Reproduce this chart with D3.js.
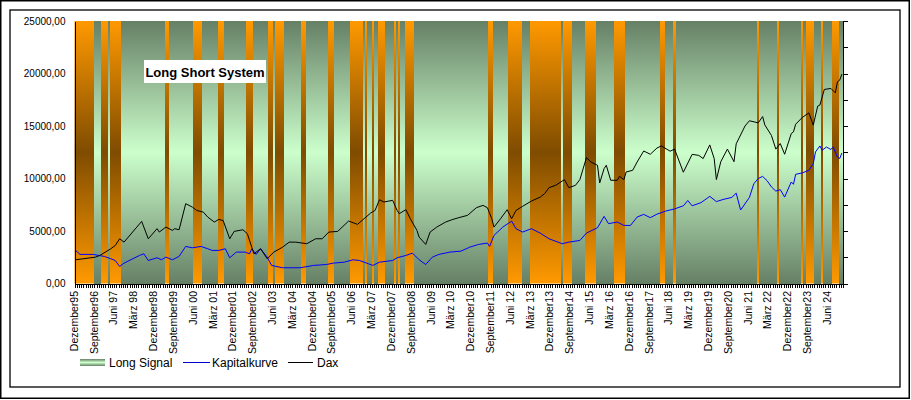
<!DOCTYPE html>
<meta charset="utf-8">
<title>Long Short System</title>
<style>
  body { margin: 0; background: #fff; }
  text { font-family: "Liberation Sans", Arial, sans-serif; fill: #000; }
  .frame { fill: none; stroke: #000; }
  .axis path, .axis line { stroke: #000; shape-rendering: crispEdges; }
  .band { shape-rendering: crispEdges; }
  .dax { fill: none; stroke: #000; stroke-width: 1px; }
  .kapital { fill: none; stroke: #0000ff; stroke-width: 1px; }
</style>
<svg width="911" height="400"></svg>
<script src="https://d3js.org/d3.v7.min.js"></script>
<script>
  // months from Dezember 95 (index 0) to Dezember 24 (index 348)
  var monthCount = 349;

  var tickLabels = ["Dezember95", "September96", "Juni 97", "März 98", "Dezember98", "September99",
    "Juni 00", "März 01", "Dezember01", "September02", "Juni 03", "März 04", "Dezember04",
    "September05", "Juni 06", "März 07", "Dezember07", "September08", "Juni 09", "März 10",
    "Dezember10", "September11", "Juni 12", "März 13", "Dezember13", "September14", "Juni 15",
    "März 16", "Dezember16", "September17", "Juni 18", "März 19", "Dezember19", "September20",
    "Juni 21", "März 22", "Dezember22", "September23", "Juni 24"];
  var labelStep = 9;

  var yTicks = [0, 5000, 10000, 15000, 20000, 25000];
  var rightTicks = [0, 2500, 5000, 7500, 10000, 12500, 15000, 17500, 20000, 22500, 25000];

  // months without long signal (first and last month index)
  var shortPeriods = [[0, 8], [12, 14], [16, 20], [41, 42], [54, 57], [65, 67], [78, 80], [88, 89],
    [91, 94], [103, 104], [115, 117], [125, 130], [132, 132], [135, 135], [138, 140], [145, 145],
    [147, 147], [150, 153], [188, 189], [197, 202], [207, 220], [222, 225], [232, 236], [245, 249],
    [266, 267], [272, 272], [310, 310], [319, 319], [330, 330], [332, 335], [339, 339], [344, 346]];

  // [month index, value]
  var daxPoints = [[0, 2260], [9, 2510], [11, 2670], [16, 3310], [18, 3620], [20, 4260], [22, 3940],
    [30, 5915], [33, 4260], [37, 5220], [38, 4900], [41, 5370], [44, 5060], [45, 5220], [47, 5120],
    [50, 7600], [53, 7280], [55, 6960], [58, 6800], [60, 6330], [63, 5850], [65, 6100], [67, 6000],
    [70, 4260], [72, 4960], [76, 5120], [78, 4740], [80, 3460], [81, 2830], [84, 3310], [87, 2360],
    [90, 2990], [94, 3460], [97, 3940], [100, 3940], [105, 3790], [109, 4260], [112, 4260],
    [115, 4900], [119, 4960], [124, 5950], [128, 5630], [131, 6170], [134, 6710], [136, 6960],
    [138, 7980], [140, 7760], [144, 7920], [146, 6960], [147, 6650], [150, 7030], [152, 6170],
    [155, 5060], [156, 4420], [159, 3720], [161, 4900], [164, 5370], [168, 5850], [171, 6080],
    [174, 6270], [178, 6490], [182, 7220], [185, 7440], [187, 7220], [189, 6170], [190, 5370],
    [193, 6170], [196, 7030], [198, 6170], [200, 6960], [203, 7350], [207, 7850], [211, 8230],
    [213, 8560], [215, 9130], [218, 9350], [222, 9890], [224, 9130], [227, 9350], [229, 9890],
    [232, 11990], [234, 11570], [237, 11260], [238, 9570], [240, 10940], [241, 11260], [243, 9830],
    [246, 9830], [247, 10210], [249, 9890], [250, 10620], [253, 10780], [255, 11570], [258, 12620],
    [261, 12310], [264, 12900], [266, 13100], [270, 12600], [272, 12800], [276, 10600], [280, 12300],
    [283, 12200], [285, 11900], [288, 13200], [290, 11900], [291, 9900], [293, 11600], [296, 12800],
    [299, 11600], [300, 13300], [304, 15000], [306, 15500], [310, 15300], [312, 15900], [313, 15100],
    [316, 14100], [318, 12800], [320, 13330], [322, 12310], [325, 14280], [326, 14440], [327, 15170],
    [330, 15810], [333, 16250], [335, 15080], [337, 16890], [338, 16990], [340, 18480], [343, 18580],
    [345, 18160], [346, 19210], [347, 19370], [348, 19940]];

  var kapitalPoints = [[0, 3150], [2, 2770], [8, 2770], [13, 2580], [16, 2360], [18, 2190], [20, 1620],
    [22, 1940], [29, 2670], [31, 2830], [33, 2190], [37, 2450], [39, 2260], [41, 2510], [44, 2260],
    [47, 2580], [50, 3530], [53, 3400], [57, 3530], [60, 3310], [62, 3150], [65, 3150], [68, 3310],
    [70, 2450], [73, 2990], [77, 2990], [79, 2830], [80, 3310], [82, 2770], [84, 3310], [87, 2510],
    [89, 1720], [94, 1500], [102, 1500], [108, 1720], [114, 1810], [117, 1940], [122, 2030],
    [126, 2260], [129, 2190], [133, 1880], [135, 1720], [138, 2030], [144, 2190], [146, 2450],
    [150, 2670], [153, 2890], [156, 2260], [159, 1810], [162, 2510], [165, 2770], [170, 2990],
    [175, 3080], [179, 3460], [183, 3720], [187, 3850], [188, 3530], [190, 4580], [194, 5370],
    [198, 5940], [200, 5220], [203, 4900], [207, 5220], [211, 4800], [215, 4260], [221, 3790],
    [224, 3940], [229, 4100], [232, 4800], [237, 5310], [240, 6390], [242, 5700], [246, 5850],
    [249, 5530], [252, 5530], [255, 6330], [258, 6580], [261, 6270], [264, 6600], [268, 6900],
    [272, 7100], [276, 7400], [278, 7900], [280, 7400], [284, 7700], [288, 8300], [291, 7800],
    [294, 8000], [298, 8200], [300, 8600], [302, 7000], [306, 8200], [308, 9500], [310, 10000],
    [312, 10200], [314, 9800], [316, 9200], [318, 8800], [320, 8940], [322, 8230], [325, 9670],
    [326, 9450], [327, 10400], [330, 10530], [333, 10780], [335, 11420], [336, 12530], [338, 13100],
    [339, 12690], [341, 13000], [343, 12760], [344, 13000], [346, 12050], [347, 11900], [348, 12430]];

  var svg = d3.select("svg");
  var plot = { left: 74.5, right: 843, top: 21, bottom: 283.5 };

  var x = d3.scaleLinear().domain([0, monthCount]).range([plot.left, plot.right]);
  var y = d3.scaleLinear().domain([0, 25000]).range([plot.bottom, plot.top]);

  // frames
  svg.append("rect").attr("class", "frame")
    .attr("x", 0.75).attr("y", 0.75).attr("width", 908.5).attr("height", 397.5)
    .attr("stroke-width", 1.5);
  svg.append("rect").attr("class", "frame")
    .attr("x", 10).attr("y", 10).attr("width", 890).attr("height", 377)
    .attr("stroke-width", 1.3);

  // gradients: half-tone at the edges or centre
  var defs = svg.append("defs");
  function gradient(id, edge, centre, userSpace) {
    var g = defs.append("linearGradient").attr("id", id)
      .attr("x1", 0).attr("x2", 0);
    if (userSpace) {
      g.attr("gradientUnits", "userSpaceOnUse").attr("y1", plot.top).attr("y2", plot.bottom);
    } else {
      g.attr("y1", 0).attr("y2", 1);
    }
    g.append("stop").attr("offset", "0%").attr("stop-color", edge);
    g.append("stop").attr("offset", "50%").attr("stop-color", centre);
    g.append("stop").attr("offset", "100%").attr("stop-color", edge);
  }
  gradient("shortGrad", "#ff9900", "#7f4c00", true);
  gradient("longGrad", "#668066", "#ccffcc", true);
  gradient("longGradLegend", "#668066", "#ccffcc", false);

  // background = short signal
  svg.append("rect")
    .attr("x", x(0)).attr("y", y(25000))
    .attr("width", x(monthCount) - x(0)).attr("height", y(0) - y(25000))
    .attr("fill", "url(#shortGrad)");

  // long signal ranges = gaps between short periods
  var longPeriods = [];
  var start = 0;
  shortPeriods.forEach(function (p) {
    if (p[0] > start) longPeriods.push([start, p[0] - 1]);
    start = p[1] + 1;
  });
  if (start < monthCount) longPeriods.push([start, monthCount - 1]);

  svg.append("g").selectAll("rect")
    .data(longPeriods)
    .enter().append("rect")
    .attr("class", "band")
    .attr("x", d => x(d[0]))
    .attr("width", d => x(d[1] + 1) - x(d[0]))
    .attr("y", y(25000))
    .attr("height", y(0) - y(25000))
    .attr("fill", "url(#longGrad)");

  // axes
  var fmt = d => d3.format(".2f")(d).replace(".", ",");
  svg.append("g").attr("class", "axis")
    .attr("transform", "translate(" + plot.left + ",0)")
    .call(d3.axisLeft(y).tickValues(yTicks).tickSize(0).tickPadding(9).tickFormat(fmt))
    .call(g => g.selectAll("text").attr("font-size", "10px").attr("font-family", null));

  svg.append("g").attr("class", "axis")
    .attr("transform", "translate(" + plot.right + ",0)")
    .call(d3.axisRight(y).tickValues(rightTicks).tickSize(5).tickSizeOuter(0).tickFormat(""));

  svg.append("g").attr("class", "axis")
    .attr("transform", "translate(0," + plot.bottom + ")")
    .call(d3.axisBottom(x).tickValues(d3.range(0, monthCount + 1)).tickSize(4).tickSizeOuter(0).tickFormat(""));

  svg.append("g").selectAll("text")
    .data(tickLabels)
    .enter().append("text")
    .attr("transform", (d, i) => "translate(" + (x(i * labelStep + 0.5) - 1.5) + ",291) rotate(-90)")
    .attr("dy", "0.35em")
    .attr("text-anchor", "end")
    .attr("font-size", "10.5px")
    .text(d => d);

  // series
  var line = d3.line().x(d => x(d[0] + 0.5)).y(d => y(d[1]));
  svg.append("path").datum(kapitalPoints).attr("class", "kapital").attr("d", line);
  svg.append("path").datum(daxPoints).attr("class", "dax").attr("d", line);

  // title
  svg.append("rect").attr("x", 144).attr("y", 60).attr("width", 122).attr("height", 23).attr("fill", "#fff");
  svg.append("text").attr("x", 205).attr("y", 76.5).attr("text-anchor", "middle")
    .attr("font-size", "13px").attr("font-weight", "bold").text("Long Short System");

  // legend
  var legend = svg.append("g").attr("font-size", "12px");
  legend.append("rect").attr("x", 80).attr("y", 359).attr("width", 25).attr("height", 7)
    .attr("fill", "url(#longGradLegend)");
  legend.append("text").attr("x", 109).attr("y", 366.5).text("Long Signal");
  legend.append("line").attr("x1", 183).attr("x2", 210).attr("y1", 362.5).attr("y2", 362.5)
    .attr("stroke", "#0000cc");
  legend.append("text").attr("x", 212).attr("y", 366.5).text("Kapitalkurve");
  legend.append("line").attr("x1", 288).attr("x2", 313).attr("y1", 362.5).attr("y2", 362.5)
    .attr("stroke", "#000");
  legend.append("text").attr("x", 317).attr("y", 366.5).text("Dax");
</script>
